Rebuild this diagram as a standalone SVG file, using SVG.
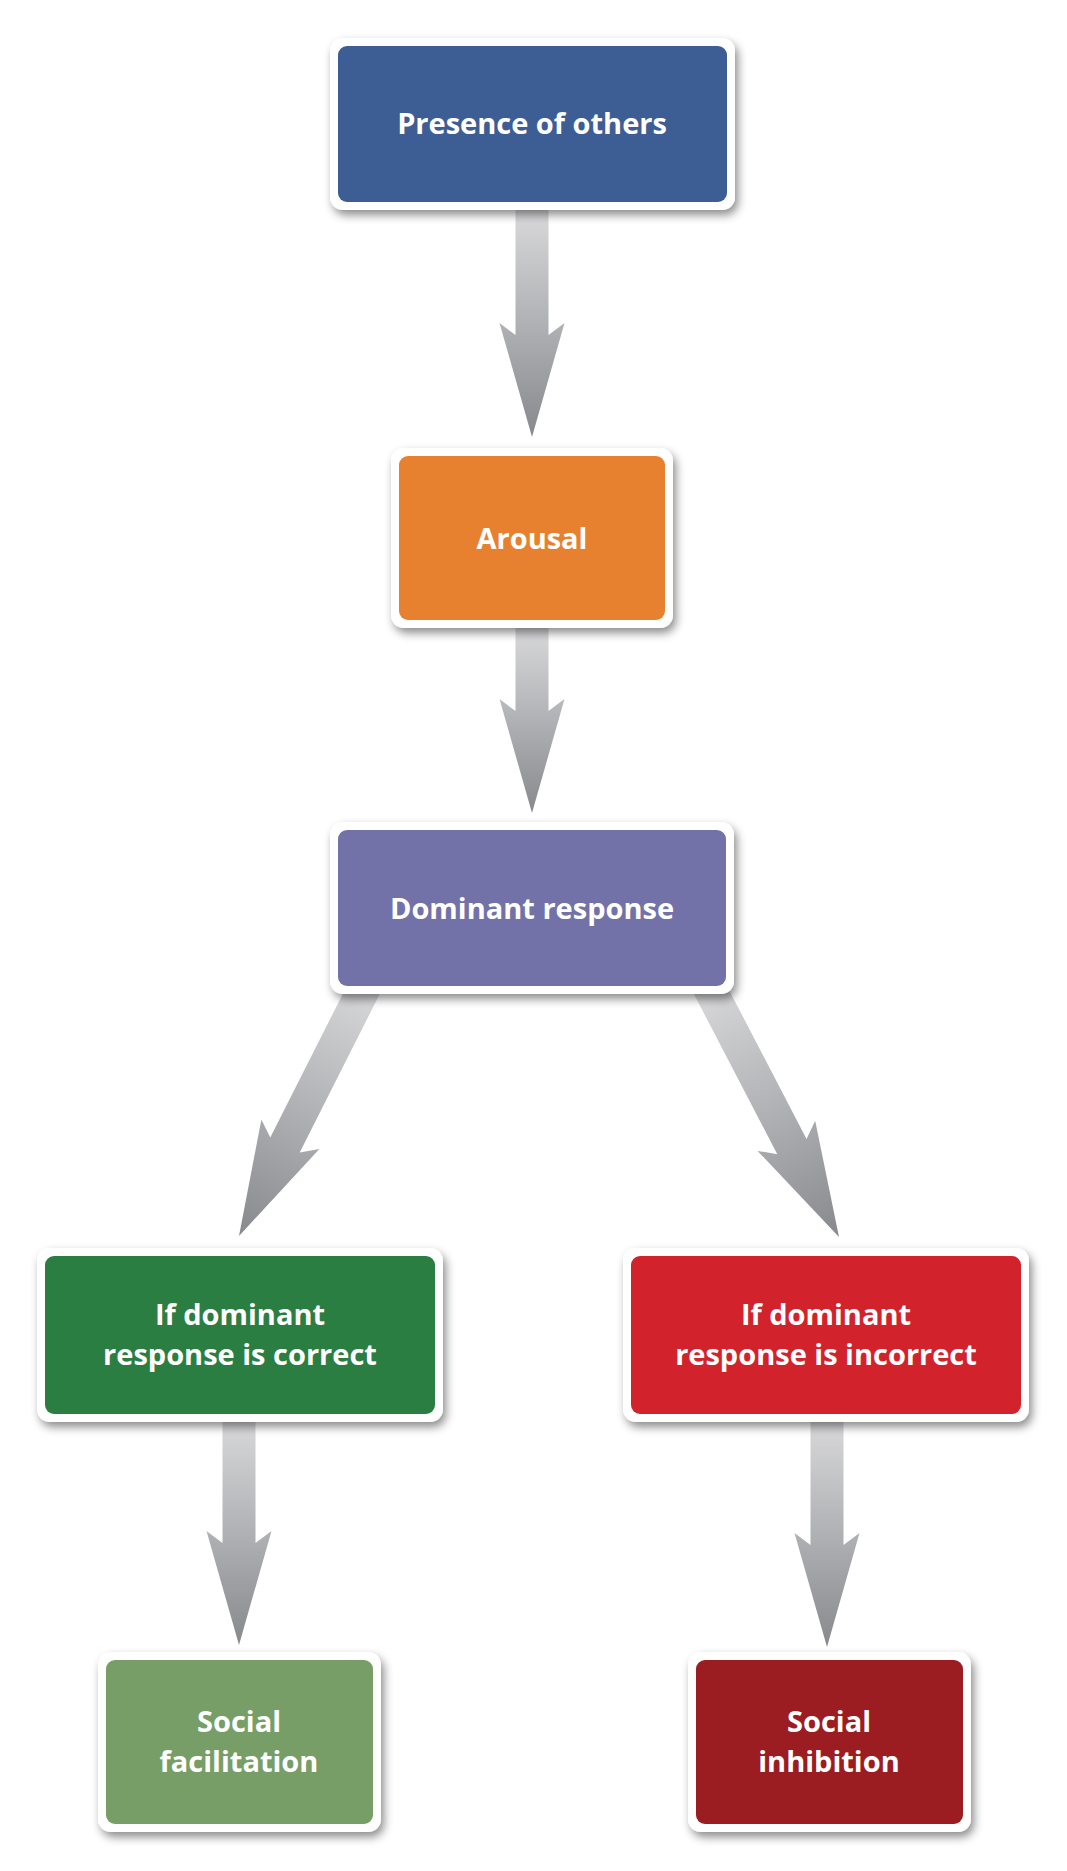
<svg xmlns="http://www.w3.org/2000/svg" width="1067" height="1871" viewBox="0 0 1067 1871">
  <defs>
    <filter id="shadow" x="-10%" y="-15%" width="125%" height="140%">
      <feDropShadow dx="3" dy="5" stdDeviation="5" flood-color="#000" flood-opacity="0.45"/>
    </filter>
    <linearGradient id="arrowGrad" x1="0" y1="0" x2="0" y2="1">
      <stop offset="0" stop-color="#dcdcde"/>
      <stop offset="0.45" stop-color="#b6b7ba"/>
      <stop offset="1" stop-color="#88898d"/>
    </linearGradient>
    <style>
      .outer { fill: #ffffff; filter: url(#shadow); }
      .label { font-family: "Open Sans", "Liberation Sans", sans-serif; font-weight: 700; font-size: 29px; fill: #ffffff; text-anchor: middle; }
      .arrow { fill: url(#arrowGrad); }
    </style>
  </defs>
  <rect width="1067" height="1871" fill="#ffffff"/>

  <g id="connectors">
    <path class="arrow" transform="translate(532,437)" d="M -16.5,-237 L 16.5,-237 L 16.5,-102 L 32.5,-114 L 0,0 L -32.5,-114 L -16.5,-102 Z"/>
    <path class="arrow" transform="translate(532,813)" d="M -16.5,-193 L 16.5,-193 L 16.5,-102 L 32.5,-114 L 0,0 L -32.5,-114 L -16.5,-102 Z"/>
    <path class="arrow" transform="translate(239,1236) rotate(26.8)" d="M -16.5,-295 L 16.5,-295 L 16.5,-102 L 32.5,-114 L 0,0 L -32.5,-114 L -16.5,-102 Z"/>
    <path class="arrow" transform="translate(839,1237) rotate(-27.5)" d="M -16.5,-297 L 16.5,-297 L 16.5,-102 L 32.5,-114 L 0,0 L -32.5,-114 L -16.5,-102 Z"/>
    <path class="arrow" transform="translate(239,1645)" d="M -16.5,-235 L 16.5,-235 L 16.5,-102 L 32.5,-114 L 0,0 L -32.5,-114 L -16.5,-102 Z"/>
    <path class="arrow" transform="translate(827,1647)" d="M -16.5,-237 L 16.5,-237 L 16.5,-102 L 32.5,-114 L 0,0 L -32.5,-114 L -16.5,-102 Z"/>
  </g>

  <g id="presence">
    <rect class="outer" x="330" y="38" width="405" height="172" rx="13"/>
    <rect x="338" y="46" width="389" height="156" rx="9" fill="#3c5e95"/>
    <text class="label" x="532" y="134">Presence of others</text>
  </g>

  <g id="arousal">
    <rect class="outer" x="391" y="448" width="282" height="180" rx="13"/>
    <rect x="399" y="456" width="266" height="164" rx="9" fill="#e8812f"/>
    <text class="label" x="532" y="549">Arousal</text>
  </g>

  <g id="dominant">
    <rect class="outer" x="330" y="822" width="404" height="172" rx="13"/>
    <rect x="338" y="830" width="388" height="156" rx="9" fill="#7272a8"/>
    <text class="label" x="532" y="919">Dominant response</text>
  </g>

  <g id="correct">
    <rect class="outer" x="37" y="1248" width="406" height="174" rx="13"/>
    <rect x="45" y="1256" width="390" height="158" rx="9" fill="#2b7e42"/>
    <text class="label" x="240" y="1325">If dominant</text>
    <text class="label" x="240" y="1365">response is correct</text>
  </g>

  <g id="incorrect">
    <rect class="outer" x="623" y="1248" width="406" height="174" rx="13"/>
    <rect x="631" y="1256" width="390" height="158" rx="9" fill="#d2232d"/>
    <text class="label" x="826" y="1325">If dominant</text>
    <text class="label" x="826" y="1365">response is incorrect</text>
  </g>

  <g id="facilitation">
    <rect class="outer" x="98" y="1652" width="283" height="180" rx="13"/>
    <rect x="106" y="1660" width="267" height="164" rx="9" fill="#779e66"/>
    <text class="label" x="239" y="1732">Social</text>
    <text class="label" x="239" y="1772">facilitation</text>
  </g>

  <g id="inhibition">
    <rect class="outer" x="688" y="1652" width="283" height="180" rx="13"/>
    <rect x="696" y="1660" width="267" height="164" rx="9" fill="#9b1c21"/>
    <text class="label" x="829" y="1732">Social</text>
    <text class="label" x="829" y="1772">inhibition</text>
  </g>
</svg>
